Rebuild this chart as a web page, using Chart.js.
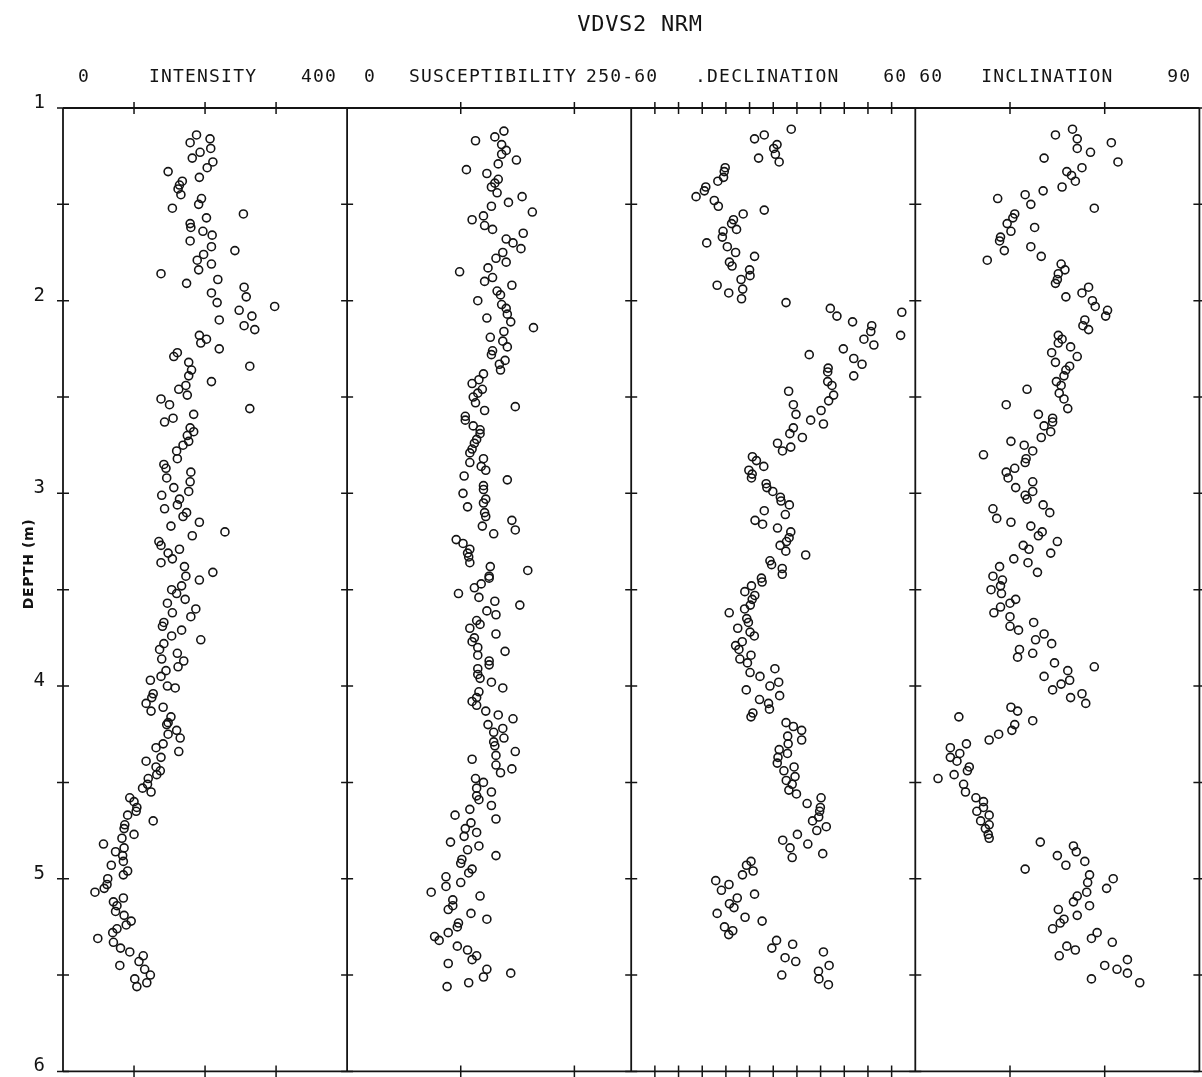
<!DOCTYPE html>
<html>
<head>
<meta charset="utf-8">
<title>VDVS2 NRM</title>
<script src="https://cdn.jsdelivr.net/npm/chart.js@4.4.1/dist/chart.umd.min.js"></script>
<style>
  html, body { margin: 0; padding: 0; background: #fff; overflow: hidden; }
  #wrap { position: relative; width: 1205px; height: 1077px; }
</style>
</head>
<body>
<div id="wrap"><canvas id="core" width="1205" height="1077"></canvas></div>
<script>
// VDVS2 NRM - downhole log, four panels sharing the depth axis

const chartTitle = 'VDVS2 NRM';
const depthTitle = 'DEPTH (m)';

// intensity (0 - 400)
const intensityDepth = [
  1.14,1.16,1.18,1.21,1.23,1.26,1.28,1.31,1.33,1.36,
  1.38,1.40,1.42,1.45,1.47,1.50,1.52,1.55,1.57,1.60,
  1.62,1.64,1.66,1.69,1.72,1.74,1.76,1.79,1.81,1.84,
  1.86,1.89,1.91,1.93,1.96,1.98,2.01,2.03,2.05,2.08,
  2.10,2.13,2.15,2.18,2.20,2.22,2.25,2.27,2.29,2.32,
  2.34,2.36,2.39,2.42,2.44,2.46,2.49,2.51,2.54,2.56,
  2.59,2.61,2.63,2.66,2.68,2.70,2.73,2.75,2.78,2.82,
  2.85,2.87,2.89,2.92,2.94,2.97,2.99,3.01,3.03,3.06,
  3.08,3.10,3.12,3.15,3.17,3.20,3.22,3.25,3.27,3.29,
  3.31,3.34,3.36,3.38,3.41,3.43,3.45,
  3.48,3.50,3.52,3.55,3.57,3.60,3.62,3.64,3.67,3.69,
  3.71,3.74,3.76,3.78,3.81,3.83,3.86,3.87,3.90,3.92,
  3.95,3.97,4.00,4.01,4.04,4.06,4.09,4.11,4.13,4.16,
  4.19,4.20,4.23,4.25,4.27,4.30,4.32,4.34,4.37,4.39,
  4.42,4.44,4.46,4.48,4.51,4.53,4.55,4.58,4.60,4.63,
  4.65,4.67,4.70,4.72,4.74,4.77,4.79,4.82,4.84,4.86,
  4.88,4.91,4.93,4.96,4.98,5.00,5.03,5.05,5.07,5.10,
  5.12,5.14,5.17,5.19,5.22,5.24,5.26,5.28,5.31,5.33,
  5.36,5.38,5.40,5.43,5.45,5.47,5.50,5.52,5.54,5.56
];
const intensity = [
  188,207,179,208,193,182,211,203,148,192,
  168,164,162,166,195,191,154,254,202,179,
  180,197,210,179,209,242,198,189,209,191,
  138,218,174,255,209,258,217,298,248,266,
  220,255,270,192,202,194,220,161,156,177,
  263,181,177,209,173,163,175,138,150,263,
  184,155,143,179,184,175,177,169,160,161,
  142,145,180,146,179,156,177,139,164,161,
  143,174,169,192,152,228,182,135,138,164,
  148,154,138,171,211,173,192,
  167,153,160,172,147,187,154,180,142,140,
  167,153,194,142,136,161,139,170,162,145,
  138,123,147,158,127,125,117,141,124,152,
  148,146,160,148,165,141,131,163,138,117,
  131,137,132,120,119,112,124,94,100,104,
  103,91,127,87,86,100,83,57,86,74,
  84,85,68,91,85,63,62,58,45,85,
  71,76,74,86,96,89,76,70,49,71,
  81,94,113,107,80,115,123,101,118,104
];

// susceptibility (0 - 250)
const suscDepth = [
  1.12,1.15,1.17,1.19,1.22,1.24,1.27,1.29,1.32,1.34,
  1.37,1.39,1.41,1.44,1.46,1.49,1.51,1.54,1.56,1.58,
  1.61,1.63,1.65,1.68,1.70,1.73,1.75,1.78,1.80,1.83,
  1.85,1.88,1.90,1.92,1.95,1.97,2.00,2.02,2.04,2.07,
  2.09,2.11,2.14,2.16,2.19,2.21,2.24,2.26,2.28,2.31,
  2.33,2.36,2.38,2.41,2.43,2.46,2.48,2.50,2.53,2.55,
  2.57,2.60,2.62,2.65,2.67,2.69,2.72,2.74,2.77,2.79,
  2.82,2.84,2.86,2.88,2.91,2.93,2.96,2.98,3.00,3.03,
  3.05,3.07,3.10,3.12,3.14,3.17,3.19,3.21,3.24,3.26,
  3.29,3.31,3.33,3.36,3.38,3.40,3.43,
  3.44,3.47,3.49,3.52,3.54,3.56,3.58,3.61,3.63,3.66,
  3.68,3.70,3.73,3.75,3.77,3.80,3.82,3.84,3.87,3.89,
  3.91,3.94,3.96,3.98,4.01,4.03,4.06,4.08,4.10,4.13,
  4.15,4.17,4.20,4.22,4.24,4.27,4.29,4.31,4.34,4.36,
  4.38,4.41,4.43,4.45,4.48,4.50,4.53,4.55,4.57,4.59,
  4.62,4.64,4.67,4.69,4.71,4.74,4.76,4.78,4.81,4.83,
  4.85,4.88,4.90,4.92,4.95,4.97,4.99,5.02,5.04,5.07,
  5.09,5.11,5.14,5.16,5.18,5.21,5.23,5.25,5.28,5.30,
  5.32,5.35,5.37,5.40,5.42,5.44,5.47,5.49,5.51,5.54,
  5.56
];
const susceptibility = [
  138,130,113,136,140,136,149,133,105,123,
  133,130,127,132,154,142,127,163,120,110,
  121,128,155,140,146,153,137,131,140,124,
  99,128,121,145,132,135,115,136,140,141,
  123,144,164,138,126,137,141,128,127,139,
  134,135,120,116,110,119,115,111,113,148,
  121,104,104,111,117,117,114,112,110,108,
  120,108,118,122,103,141,120,120,102,122,
  120,106,121,122,145,119,148,129,96,102,
  108,106,107,108,126,159,125,
  125,118,112,98,116,130,152,123,131,114,
  117,108,131,112,110,115,139,115,125,125,
  115,115,117,127,137,116,114,110,114,122,
  133,146,124,137,129,138,129,130,148,131,
  110,131,145,135,113,120,114,127,114,116,
  127,108,95,131,109,104,114,103,91,116,
  106,131,101,100,110,107,87,100,87,74,
  117,93,93,89,109,123,98,97,89,77,
  81,97,106,114,110,89,123,144,120,107,
  88
];

// declination (-60 - 60)
const declDepth = [
  1.11,1.14,1.16,1.19,1.21,1.24,1.26,1.28,1.31,1.33,
  1.36,1.38,1.41,1.43,1.46,1.48,1.51,1.53,1.55,1.58,
  1.60,1.63,1.64,1.67,1.70,1.72,1.75,1.77,1.80,1.82,
  1.84,1.87,1.89,1.92,1.94,1.96,1.99,2.01,2.04,2.06,
  2.08,2.11,2.13,2.16,2.18,2.20,2.23,2.25,2.28,2.30,
  2.33,2.35,2.37,2.39,2.42,2.44,2.47,2.49,2.52,2.54,
  2.57,2.59,2.62,2.64,2.66,2.69,2.71,2.74,2.76,2.78,
  2.81,2.83,2.86,2.88,2.90,2.92,2.95,2.97,2.99,3.02,
  3.04,3.06,3.09,3.11,3.14,3.16,3.18,3.20,3.23,3.25,
  3.27,3.30,3.32,3.35,3.37,3.39,3.42,3.44,
  3.46,3.48,3.51,3.53,3.55,3.58,3.60,3.62,3.65,3.67,
  3.70,3.72,3.74,3.77,3.79,3.81,3.84,3.86,3.88,3.91,
  3.93,3.95,3.98,4.00,4.02,4.05,4.07,4.09,4.12,4.14,
  4.16,4.19,4.21,4.23,4.26,4.28,4.30,4.33,4.35,4.37,
  4.40,4.42,4.44,4.47,4.49,4.51,4.54,4.56,4.58,4.61,
  4.63,4.65,4.68,4.70,4.73,4.75,4.77,4.80,4.82,4.84,
  4.87,4.89,4.91,4.93,4.96,4.98,5.01,5.03,5.06,5.08,
  5.10,5.13,5.15,5.18,5.20,5.22,5.25,5.27,5.29,5.32,
  5.34,5.36,5.38,5.41,5.43,5.45,5.48,5.50,5.52,5.55
];
const declination = [
  7.6,-3.8,-7.9,1.6,0.2,0.9,-6.2,2.5,-20.3,-20.7,
  -21,-23.4,-28.5,-29.1,-32.6,-24.9,-23.2,-3.8,-12.7,-16.8,
  -17.6,-15.5,-21.2,-21.5,-28.1,-19.4,-15.9,-7.9,-18.5,-17.4,
  -10,-9.8,-13.6,-23.7,-12.9,-18.8,-13.4,5.4,24.1,54.3,
  26.9,33.5,41.6,41.2,53.8,38.3,42.5,29.6,15.2,34,
  37.5,23.2,23,34,23,24.8,6.5,25.5,23.4,8.5,
  20.2,9.6,15.8,21.2,8.5,7,12.3,1.8,7.4,3.9,
  -8.8,-7.1,-4,-10.3,-8.9,-9.2,-3,-2.7,-0.2,3,
  3.3,6.8,-3.8,5.1,-7.7,-4.5,1.8,7.4,6.7,5.6,
  2.9,5.3,13.7,-1.4,-0.7,3.8,3.8,-5,
  -4.7,-9.2,-12,-7.8,-8.9,-9.7,-12.1,-18.6,-11.2,-10.5,
  -15,-9.8,-8,-13.1,-15.9,-14.5,-9.4,-14.1,-10.9,0.7,
  -9.8,-5.6,2.3,-1.4,-11.4,2.7,-5.8,-2,-1.6,-8.6,
  -9.4,5.4,8.5,12,6.1,12,6.3,2.5,6,2,
  1.7,8.8,4.5,9.2,5.5,8,6.6,9.8,20.2,14.3,
  19.9,19.6,19.2,16.6,22.4,18.4,10.2,4,14.6,7.1,
  20.9,8,-9.4,-11.3,-8.5,-13,-24.3,-18.7,-21.9,-7.9,
  -15.2,-18.5,-16.6,-23.7,-11.9,-4.7,-20.6,-17.1,-18.8,1.4,
  8.2,-0.6,21.2,5,9.5,23.6,19.1,3.6,19.3,23.3
];

// inclination (60 - 90)
const inclDepth = [
  1.11,1.14,1.16,1.18,1.21,1.23,1.26,1.28,1.31,1.33,
  1.35,1.38,1.41,1.43,1.45,1.47,1.50,1.52,1.55,1.57,
  1.60,1.62,1.64,1.67,1.69,1.72,1.74,1.77,1.79,1.81,
  1.84,1.86,1.89,1.91,1.93,1.96,1.98,2.00,2.03,2.05,
  2.08,2.10,2.13,2.15,2.18,2.20,2.22,2.24,2.27,2.29,
  2.32,2.34,2.36,2.39,2.42,2.44,2.46,2.48,2.51,2.54,
  2.56,2.59,2.61,2.63,2.65,2.68,2.71,2.73,2.75,2.78,
  2.80,2.82,2.84,2.87,2.89,2.92,2.94,2.97,2.99,3.01,
  3.03,3.06,3.08,3.10,3.13,3.15,3.17,3.20,3.22,3.25,
  3.27,3.29,3.31,3.34,3.36,3.38,3.41,3.43,3.45,
  3.48,3.50,3.52,3.55,3.57,3.59,3.62,3.64,3.67,3.69,
  3.71,3.73,3.76,3.78,3.81,3.83,3.85,3.88,3.90,3.92,
  3.95,3.97,3.99,4.02,4.04,4.06,4.09,4.11,4.13,4.16,
  4.18,4.20,4.23,4.25,4.28,4.30,4.32,4.35,4.37,4.39,
  4.42,4.44,4.46,4.48,4.51,4.55,4.58,4.60,4.63,4.65,
  4.67,4.70,4.72,4.74,4.77,4.79,4.81,4.83,4.86,4.88,
  4.91,4.93,4.95,4.98,5.00,5.02,5.05,5.07,5.09,5.12,
  5.14,5.16,5.19,5.21,5.23,5.26,5.28,5.31,5.33,5.35,
  5.37,5.40,5.42,5.45,5.47,5.49,5.52,5.54
];
const inclination = [
  76.6,74.8,77.1,80.7,77.1,78.5,73.6,81.4,77.6,76.0,
  76.5,76.9,75.5,73.5,71.6,68.7,72.2,78.9,70.5,70.3,
  69.7,72.6,70.1,69.0,68.9,72.2,69.4,73.3,67.6,75.4,
  75.8,75.1,75.0,74.8,78.3,77.6,75.9,78.7,79.0,80.3,
  80.1,77.9,77.7,78.3,75.1,75.5,75.1,76.4,74.4,77.1,
  74.8,76.3,75.9,75.7,74.9,75.4,71.8,75.2,75.7,69.6,
  76.1,73.0,74.5,74.5,73.6,74.3,73.3,70.1,71.5,72.4,
  67.2,71.7,71.6,70.5,69.6,69.8,72.4,70.6,72.4,71.6,
  71.8,73.5,68.2,74.2,68.6,70.1,72.2,73.4,73.0,75.0,
  71.4,72.0,74.3,70.4,71.9,68.9,72.9,68.2,69.2,
  69.0,68.0,69.1,70.6,70.0,69.0,68.3,70.0,72.5,70.0,
  70.9,73.6,72.7,74.4,71.0,72.4,70.8,74.7,78.9,76.1,
  73.6,76.3,75.4,74.5,77.6,76.4,78.0,70.1,70.8,64.6,
  72.4,70.5,70.2,68.8,67.8,65.4,63.7,64.7,63.7,64.4,
  65.7,65.5,64.1,62.4,65.1,65.3,66.4,67.2,67.2,66.5,
  67.8,66.9,67.8,67.4,67.7,67.8,73.2,76.7,77.0,75.0,
  77.9,75.9,71.6,78.4,80.9,78.2,80.2,78.1,77.1,76.7,
  78.4,75.1,77.1,75.7,75.3,74.5,79.2,78.6,80.8,76.0,
  76.9,75.2,82.4,80.0,81.3,82.4,78.6,83.7
];

// panel axes
const panelIds = ['xInt', 'xSus', 'xDec', 'xInc'];
const panelNames = ['INTENSITY', 'SUSCEPTIBILITY', '.DECLINATION', 'INCLINATION'];
const panelMin = [0, 0, -60, 60];
const panelMax = [400, 250, 60, 90];
const panelStep = [100, 100, 10, 10];
const panelLoText = ['0', '0', '-60', '60'];
const panelHiText = ['400', '250', '60', '90'];

const ink = '#141414';
const monoFont = '"DejaVu Sans Mono", "Liberation Mono", monospace';

// where the header words sit relative to each panel (px)
const headerOffsets = [
  { lo: 15, name: -2, hi: 10 },
  { lo: 17, name: 4, hi: 9 },
  { lo: -9, name: -6, hi: 8 },
  { lo: 4, name: -10, hi: 8 }
];

function pairs(depths, values) {
  return depths.map((d, i) => ({ x: values[i], y: d }));
}

const series = [
  pairs(intensityDepth, intensity),
  pairs(suscDepth, susceptibility),
  pairs(declDepth, declination),
  pairs(inclDepth, inclination)
];

// frame, crossing ticks and the header text, plotter style
const plotterFrame = {
  id: 'plotterFrame',
  beforeDatasetsDraw(chart) {
    const { ctx, chartArea: a, scales } = chart;
    const yS = scales.y;
    ctx.save();
    ctx.strokeStyle = ink;
    ctx.lineCap = 'butt';

    ctx.lineWidth = 1.8;
    ctx.beginPath();
    ctx.moveTo(a.left, a.top); ctx.lineTo(a.right, a.top);
    ctx.moveTo(a.left, a.bottom); ctx.lineTo(a.right, a.bottom);
    panelIds.forEach(id => {
      const s = scales[id];
      ctx.moveTo(s.left, a.top); ctx.lineTo(s.left, a.bottom);
      ctx.moveTo(s.right, a.top); ctx.lineTo(s.right, a.bottom);
    });
    ctx.stroke();

    ctx.lineWidth = 1.5;
    ctx.beginPath();
    panelIds.forEach(id => {
      const s = scales[id];
      // depth ticks on both borders of the panel
      yS.ticks.forEach(t => {
        const y = yS.getPixelForValue(t.value);
        [s.left, s.right].forEach(x => {
          ctx.moveTo(x - 6, y); ctx.lineTo(x + 6, y);
        });
      });
      // value ticks top and bottom
      s.ticks.forEach(t => {
        if (t.value <= s.min || t.value >= s.max) return;
        const x = s.getPixelForValue(t.value);
        ctx.moveTo(x, a.top - 6); ctx.lineTo(x, a.top + 6);
        ctx.moveTo(x, a.bottom - 6); ctx.lineTo(x, a.bottom + 6);
      });
    });
    ctx.stroke();
    ctx.restore();
  },
  afterDraw(chart) {
    const { ctx, scales } = chart;
    ctx.save();
    ctx.fillStyle = ink;
    ctx.textBaseline = 'middle';

    ctx.font = '22px ' + monoFont;
    ctx.letterSpacing = '0.7px';
    ctx.textAlign = 'center';
    ctx.fillText(chartTitle, 640, 25);

    ctx.font = '18px ' + monoFont;
    ctx.letterSpacing = '1.2px';
    panelIds.forEach((id, i) => {
      const s = scales[id];
      const off = headerOffsets[i];
      const headY = 77;
      ctx.textAlign = 'left';
      ctx.fillText(panelLoText[i], s.left + off.lo, headY);
      ctx.textAlign = 'center';
      ctx.fillText(panelNames[i], (s.left + s.right) / 2 + off.name, headY);
      ctx.textAlign = 'right';
      ctx.fillText(panelHiText[i], s.right - off.hi, headY);
    });

    // depth axis title, read bottom to top
    ctx.letterSpacing = '0.6px';
    ctx.font = 'bold 14px "DejaVu Sans", sans-serif';
    ctx.translate(29, 564);
    ctx.rotate(-Math.PI / 2);
    ctx.textAlign = 'center';
    ctx.fillText(depthTitle, 0, 0);
    ctx.restore();
  }
};

const scales = {
  y: {
    type: 'linear',
    position: 'left',
    reverse: true,
    min: 1,
    max: 6,
    ticks: {
      stepSize: 0.5,
      callback: v => (Number.isInteger(v) ? String(v) : ''),
      font: { family: monoFont, size: 19 },
      color: ink,
      padding: 18,
      labelOffset: -5
    },
    grid: { display: false, drawTicks: false },
    border: { display: false },
    title: { display: false },
    afterFit(scale) {
      scale.width = 63;
      scale.paddingTop = 0;
      scale.paddingBottom = 0;
    }
  }
};

panelIds.forEach((id, i) => {
  scales[id] = {
    type: 'linear',
    position: 'top',
    stack: 'panels',
    stackWeight: 1,
    weight: 4 - i,
    min: panelMin[i],
    max: panelMax[i],
    ticks: { stepSize: panelStep[i], display: false },
    grid: { display: false, drawTicks: false },
    border: { display: false },
    title: { display: false }
  };
});

new Chart(document.getElementById('core'), {
  type: 'scatter',
  data: {
    datasets: series.map((data, i) => ({
      label: panelNames[i],
      data,
      xAxisID: panelIds[i],
      yAxisID: 'y',
      showLine: false,
      clip: false
    }))
  },
  options: {
    responsive: false,
    animation: false,
    devicePixelRatio: 1,
    layout: { padding: { top: 108, right: 2, bottom: 5, left: 0 } },
    elements: {
      point: {
        radius: 4,
        hoverRadius: 4,
        borderWidth: 1.6,
        borderColor: ink,
        backgroundColor: 'rgba(0,0,0,0)'
      }
    },
    plugins: {
      legend: { display: false },
      tooltip: { enabled: false }
    },
    scales
  },
  plugins: [plotterFrame]
});
</script>
</body>
</html>
